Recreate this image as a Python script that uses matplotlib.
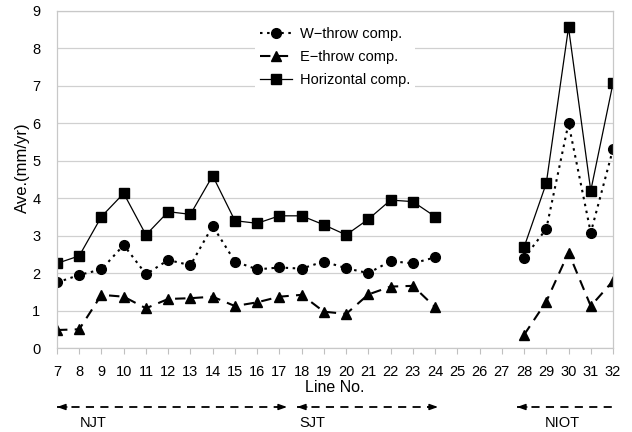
import numpy as np
import matplotlib
matplotlib.use("Agg")
import matplotlib.pyplot as plt
from matplotlib.lines import Line2D

plt.rcParams["font.family"] = ["Liberation Sans", "DejaVu Sans"]

# survey lines (25-27 have no data)
lines_no = np.arange(7, 33)
w_throw = [1.75, 1.95, 2.10, 2.75, 1.97, 2.35, 2.21, 3.26, 2.31, 2.10, 2.15, 2.12,
           2.31, 2.13, 2.00, 2.32, 2.26, 2.42, None, None, None, 2.40, 3.18, 6.00, 3.08, 5.31]
e_throw = [0.48, 0.50, 1.42, 1.37, 1.06, 1.31, 1.33, 1.37, 1.12, 1.22, 1.37, 1.42,
           0.97, 0.91, 1.43, 1.64, 1.66, 1.09, None, None, None, 0.35, 1.24, 2.55, 1.12, 1.79]
horizontal = [2.26, 2.46, 3.51, 4.13, 3.02, 3.64, 3.57, 4.60, 3.40, 3.33, 3.53, 3.53,
              3.29, 3.02, 3.44, 3.95, 3.91, 3.51, None, None, None, 2.69, 4.40, 8.56, 4.20, 7.07]

# fault segments shown under the axis: (name, start px, end px, label px, heads)
segments = [("NJT", 57, 287, 93, (True, True)),
            ("SJT", 297, 438, 312, (True, True)),
            ("NIOT", 517, 613, 562, (True, False))]


def as_array(vals):
    return np.array([np.nan if v is None else v for v in vals], dtype=float)


W, H = 632, 432
fig = plt.figure(figsize=(W / 100, H / 100), dpi=100)
ax = fig.add_axes([57 / W, 84 / H, (613 - 57) / W, (348 - 11) / H])

ax.plot(lines_no, as_array(w_throw), color="black", linestyle=(0, (1.2, 2.2)),
        linewidth=1.5, marker="o", markersize=7, label="W\u2212throw comp.")
ax.plot(lines_no, as_array(e_throw), color="black", linestyle=(0, (5, 3.5)),
        linewidth=1.5, marker="^", markersize=7.5, label="E\u2212throw comp.")
ax.plot(lines_no, as_array(horizontal), color="black", linestyle="-",
        linewidth=0.9, marker="s", markersize=6.5, label="Horizontal comp.")

ax.set_xlim(7, 32)
ax.set_ylim(0, 9)
ax.set_xticks(lines_no)
ax.set_yticks(np.arange(0, 10))
ax.tick_params(axis="x", direction="out", length=4, color="#c0c0c0",
               labelsize=10.5, pad=8)
ax.tick_params(axis="y", length=0, labelsize=10.5, pad=12)
ax.grid(axis="y", color="#d0d0d0", linewidth=0.9)
ax.set_axisbelow(True)
for side in ["left", "bottom", "top", "right"]:
    ax.spines[side].set_color("#c8c8c8")
    ax.spines[side].set_linewidth(0.9)

ax.set_ylabel("Ave.(mm/yr)", fontsize=12)
ax.yaxis.set_label_coords((30 - 57) / 556, (348 - 168) / 337)
ax.set_xlabel("Line No.", fontsize=11.5, labelpad=1)

leg = ax.legend(loc="upper left", bbox_to_anchor=((248 - 57) / 556, (348 - 15) / 337),
                frameon=True, fancybox=False, framealpha=1, edgecolor="white",
                fontsize=10.5, handlelength=2.2, handletextpad=0.5,
                labelspacing=0.6, borderpad=0.35)
leg.get_frame().set_linewidth(0)

# dashed double arrows marking the fault segments
y_arrow = H - 407
for name, x0, x1, xl, (head_l, head_r) in segments:
    fig.add_artist(Line2D([x0 / W, x1 / W], [y_arrow / H, y_arrow / H],
                          transform=fig.transFigure, color="black",
                          linewidth=1.3, linestyle=(0, (4.5, 3.5))))
    props = dict(arrowstyle="-|>,head_length=0.5,head_width=0.18",
                 color="black", linewidth=1.0, shrinkA=0, shrinkB=0)
    if head_l:
        ax.annotate("", xy=(x0, y_arrow), xytext=(x0 + 10, y_arrow),
                    xycoords="figure pixels", textcoords="figure pixels",
                    arrowprops=props, annotation_clip=False)
    if head_r:
        ax.annotate("", xy=(x1, y_arrow), xytext=(x1 - 10, y_arrow),
                    xycoords="figure pixels", textcoords="figure pixels",
                    arrowprops=props, annotation_clip=False)
    fig.text(xl / W, (H - 423) / H, name, ha="center", va="center", fontsize=10.5)

fig.savefig("out.png", dpi=100)
